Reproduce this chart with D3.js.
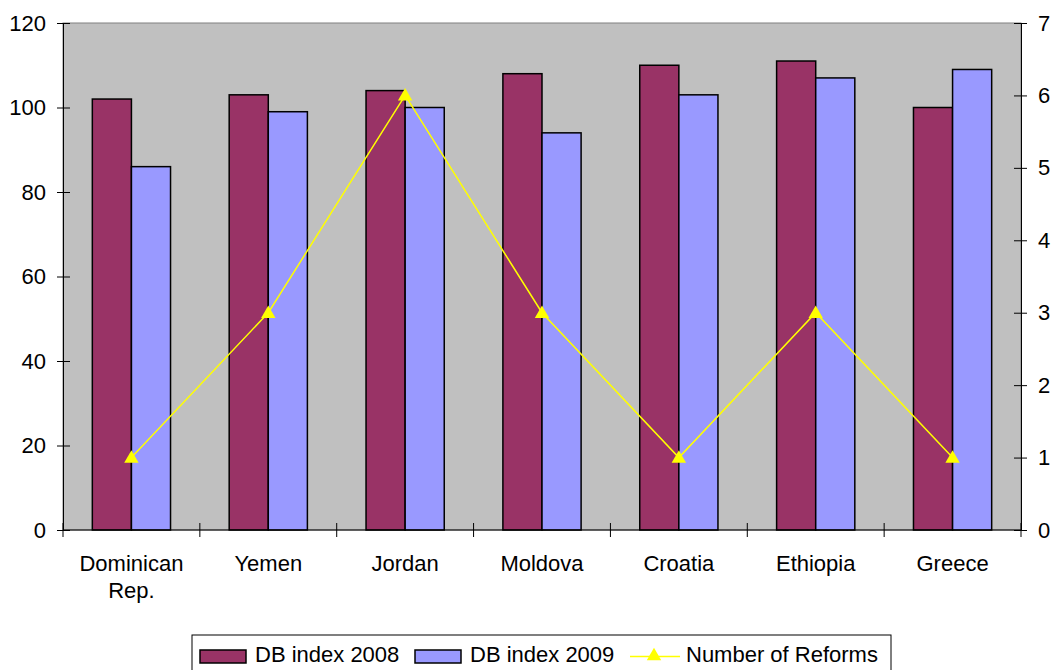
<!DOCTYPE html>
<html>
<head>
<meta charset="utf-8">
<script src="https://cdn.jsdelivr.net/npm/d3@7"></script>
<style>
  html, body { margin: 0; padding: 0; background: #fff; }
  svg { display: block; font-family: Arial, "Liberation Sans", sans-serif; }
</style>
</head>
<body>
<svg id="chart" width="1055" height="670"></svg>
<script>
// Countries and their Doing Business index values
const categories = ["Dominican Rep.", "Yemen", "Jordan", "Moldova", "Croatia", "Ethiopia", "Greece"];
const dbIndex2008 = [102, 103, 104, 108, 110, 111, 100];
const dbIndex2009 = [86, 99, 100, 94, 103, 107, 109];
const reforms = [1, 3, 6, 3, 1, 3, 1];
const leftTicks = [0, 20, 40, 60, 80, 100, 120];
const rightTicks = [0, 1, 2, 3, 4, 5, 6, 7];

const seriesNames = ["DB index 2008", "DB index 2009", "Number of Reforms"];
const barColors = ["#993366", "#9999FF"];
const lineColor = "#FFFF00";

const svg = d3.select("#chart");
const plot = { left: 63, right: 1021, top: 23, bottom: 530 };
const fontSize = 22;

const x = d3.scaleBand().domain(categories).range([plot.left, plot.right]);
const yL = d3.scaleLinear().domain([0, 120]).range([plot.bottom, plot.top]);
const yR = d3.scaleLinear().domain([0, 7]).range([plot.bottom, plot.top]);

// bar width from a 150% gap between groups
const bw = x.bandwidth() / 3.5;

// plot background
svg.append("rect")
  .attr("x", plot.left).attr("y", plot.top)
  .attr("width", plot.right - plot.left).attr("height", plot.bottom - plot.top)
  .attr("fill", "#C0C0C0").attr("stroke", "#808080").attr("stroke-width", 1);

// bars
const series = [dbIndex2008, dbIndex2009];
series.forEach((vals, si) => {
  svg.append("g").selectAll("rect")
    .data(vals)
    .join("rect")
    .attr("x", (d, i) => x(categories[i]) + x.bandwidth() / 2 - bw + si * bw)
    .attr("y", d => yL(d))
    .attr("width", bw)
    .attr("height", d => yL(0) - yL(d))
    .attr("fill", barColors[si])
    .attr("stroke", "#000").attr("stroke-width", 1.5);
});

// reforms line with triangle markers
const cx = (d, i) => x(categories[i]) + x.bandwidth() / 2;
svg.append("path")
  .datum(reforms)
  .attr("d", d3.line().x(cx).y(d => yR(d)))
  .attr("fill", "none").attr("stroke", lineColor).attr("stroke-width", 1.5);
const tri = d3.symbol().type(d3.symbolTriangle).size(90);
svg.append("g").selectAll("path")
  .data(reforms)
  .join("path")
  .attr("d", tri)
  .attr("transform", (d, i) => `translate(${cx(d, i)},${yR(d) + 1})`)
  .attr("fill", lineColor);

// axes
const axisL = svg.append("g").attr("transform", `translate(${plot.left},0)`)
  .call(d3.axisLeft(yL).tickValues(leftTicks).tickFormat(d3.format("d"))
    .tickSizeInner(6).tickSizeOuter(0).tickPadding(11));
axisL.selectAll(".tick line").attr("x2", -6).attr("x1", 7);

const axisR = svg.append("g").attr("transform", `translate(${plot.right},0)`)
  .call(d3.axisRight(yR).tickValues(rightTicks).tickFormat(d3.format("d"))
    .tickSizeInner(6).tickSizeOuter(0).tickPadding(11));
axisR.selectAll(".tick line").attr("x1", -7).attr("x2", 6);

[axisL, axisR].forEach(a => {
  a.select(".domain").attr("stroke", "#000");
  a.selectAll(".tick line").attr("stroke", "#000");
  a.selectAll("text").attr("font-size", fontSize).attr("fill", "#000")
    .attr("font-family", "Arial, 'Liberation Sans', sans-serif");
});

// bottom axis with ticks between categories
const bx = svg.append("g");
bx.append("line").attr("x1", plot.left).attr("x2", plot.right)
  .attr("y1", plot.bottom).attr("y2", plot.bottom).attr("stroke", "#000");
const sepPositions = categories.map(c => x(c)).concat([plot.right]);
bx.selectAll("line.sep").data(sepPositions).join("line").attr("class", "sep")
  .attr("x1", d => d).attr("x2", d => d)
  .attr("y1", plot.bottom - 7).attr("y2", plot.bottom + 7)
  .attr("stroke", "#000");

// category labels, wrapped onto two lines where needed
const labelLines = {
  "Dominican Rep.": ["Dominican", "Rep."]
};
bx.selectAll("text").data(categories).join("text")
  .attr("x", d => x(d) + x.bandwidth() / 2)
  .attr("y", 571)
  .attr("text-anchor", "middle")
  .attr("font-size", fontSize)
  .attr("fill", "#000")
  .each(function (d) {
    const lines = labelLines[d] || [d];
    const t = d3.select(this);
    lines.forEach((ln, k) => {
      t.append("tspan").attr("x", x(d) + x.bandwidth() / 2).attr("dy", k === 0 ? 0 : 27).text(ln);
    });
  });

// legend
const lg = svg.append("g");
lg.append("rect").attr("x", 192).attr("y", 635).attr("width", 699).attr("height", 40)
  .attr("fill", "#fff").attr("stroke", "#000").attr("stroke-width", 1);
const items = [
  { name: seriesNames[0], type: "bar", color: barColors[0], x: 200 },
  { name: seriesNames[1], type: "bar", color: barColors[1], x: 415 },
  { name: seriesNames[2], type: "line", color: lineColor, x: 630 }
];
items.forEach(it => {
  if (it.type === "bar") {
    lg.append("rect").attr("x", it.x).attr("y", 650).attr("width", 46).attr("height", 13)
      .attr("fill", it.color).attr("stroke", "#000").attr("stroke-width", 1.5);
    lg.append("text").attr("x", it.x + 55).attr("y", 662).attr("font-size", fontSize).text(it.name);
  } else {
    lg.append("line").attr("x1", it.x).attr("x2", it.x + 50).attr("y1", 656.5).attr("y2", 656.5)
      .attr("stroke", it.color).attr("stroke-width", 1.5);
    lg.append("path").attr("d", tri).attr("transform", `translate(${it.x + 24},656)`).attr("fill", it.color);
    lg.append("text").attr("x", it.x + 56).attr("y", 662).attr("font-size", fontSize).text(it.name);
  }
});
</script>
</body>
</html>
